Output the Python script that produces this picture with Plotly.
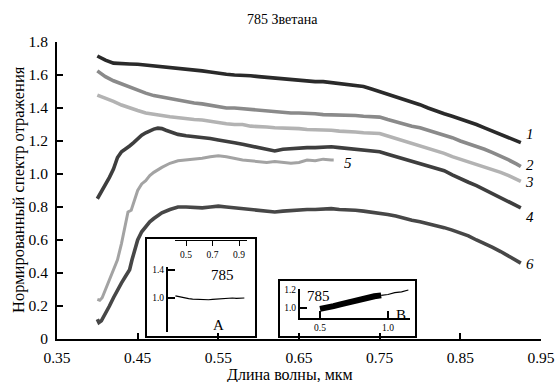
import plotly.graph_objects as go

# ---------------- data ----------------
x1 = [0.40,0.41,0.42,0.43,0.44,0.45,0.46,0.47,0.48,0.49,0.50,0.51,0.52,0.53,0.54,0.55,0.56,0.57,0.58,0.59,0.60,0.61,0.62,0.63,0.64,0.65,0.66,0.67,0.68,0.69,0.70,0.71,0.72,0.73,0.74,0.75,0.76,0.77,0.78,0.79,0.80,0.81,0.82,0.83,0.84,0.85,0.86,0.87,0.88,0.89,0.90,0.91,0.92,0.925]
y1 = [1.715,1.69,1.672,1.667,1.667,1.665,1.66,1.655,1.652,1.65,1.645,1.64,1.633,1.625,1.618,1.61,1.605,1.60,1.60,1.595,1.59,1.585,1.58,1.575,1.57,1.57,1.565,1.56,1.56,1.555,1.55,1.545,1.54,1.53,1.515,1.50,1.485,1.47,1.455,1.44,1.42,1.40,1.38,1.365,1.35,1.335,1.32,1.30,1.28,1.26,1.245,1.225,1.20,1.19]

x2 = x1
y2 = [1.625,1.59,1.565,1.545,1.53,1.51,1.49,1.475,1.465,1.46,1.45,1.44,1.43,1.425,1.415,1.41,1.40,1.40,1.395,1.39,1.385,1.38,1.375,1.375,1.37,1.37,1.37,1.365,1.36,1.36,1.36,1.355,1.355,1.35,1.35,1.345,1.33,1.315,1.30,1.29,1.28,1.265,1.255,1.24,1.22,1.20,1.185,1.17,1.15,1.13,1.11,1.085,1.06,1.045]

x3 = x1
y3 = [1.478,1.46,1.44,1.418,1.40,1.385,1.37,1.36,1.355,1.347,1.34,1.335,1.33,1.327,1.318,1.31,1.305,1.30,1.30,1.29,1.29,1.285,1.28,1.28,1.275,1.275,1.27,1.27,1.265,1.265,1.26,1.26,1.255,1.25,1.25,1.245,1.23,1.215,1.20,1.19,1.175,1.16,1.14,1.125,1.105,1.09,1.075,1.06,1.045,1.025,1.01,0.99,0.965,0.955]

x4 = [0.40,0.405,0.41,0.415,0.42,0.425,0.43,0.435,0.44,0.445,0.45,0.455,0.46,0.465,0.47,0.475,0.48,0.485,0.49,0.50,0.51,0.52,0.53,0.54,0.55,0.56,0.57,0.58,0.59,0.60,0.61,0.62,0.63,0.64,0.65,0.66,0.67,0.68,0.69,0.70,0.71,0.72,0.73,0.74,0.75,0.76,0.77,0.78,0.79,0.80,0.81,0.82,0.83,0.84,0.85,0.86,0.87,0.88,0.89,0.90,0.91,0.92,0.925]
y4 = [0.85,0.89,0.93,0.98,1.03,1.10,1.135,1.15,1.17,1.19,1.215,1.235,1.25,1.262,1.272,1.278,1.275,1.265,1.255,1.24,1.232,1.228,1.224,1.215,1.206,1.20,1.19,1.18,1.17,1.16,1.15,1.14,1.15,1.155,1.155,1.16,1.16,1.165,1.165,1.16,1.155,1.15,1.145,1.14,1.135,1.12,1.105,1.09,1.075,1.06,1.05,1.035,1.02,0.995,0.97,0.95,0.93,0.905,0.88,0.86,0.835,0.81,0.795]

x5 = [0.40,0.403,0.406,0.41,0.415,0.42,0.425,0.43,0.435,0.438,0.442,0.445,0.45,0.455,0.46,0.465,0.47,0.48,0.49,0.50,0.51,0.52,0.53,0.54,0.55,0.56,0.57,0.58,0.59,0.60,0.61,0.62,0.63,0.64,0.65,0.66,0.67,0.68,0.69,0.693]
y5 = [0.24,0.235,0.25,0.30,0.36,0.42,0.48,0.58,0.70,0.77,0.78,0.83,0.90,0.94,0.96,0.99,1.01,1.04,1.065,1.08,1.085,1.09,1.095,1.105,1.11,1.105,1.095,1.085,1.08,1.075,1.07,1.075,1.07,1.065,1.07,1.085,1.08,1.09,1.085,1.085]

x6 = [0.40,0.402,0.405,0.41,0.415,0.42,0.425,0.43,0.435,0.44,0.443,0.447,0.45,0.455,0.46,0.465,0.47,0.475,0.48,0.49,0.50,0.51,0.52,0.53,0.54,0.55,0.56,0.57,0.58,0.59,0.60,0.61,0.62,0.63,0.64,0.65,0.66,0.67,0.68,0.69,0.70,0.71,0.72,0.73,0.74,0.75,0.76,0.77,0.78,0.79,0.80,0.81,0.82,0.83,0.84,0.85,0.86,0.87,0.88,0.89,0.90,0.91,0.92,0.925]
y6 = [0.12,0.10,0.11,0.15,0.20,0.25,0.30,0.34,0.38,0.42,0.48,0.56,0.60,0.65,0.68,0.71,0.73,0.75,0.765,0.785,0.80,0.80,0.795,0.795,0.80,0.805,0.80,0.795,0.79,0.785,0.78,0.775,0.77,0.775,0.78,0.78,0.785,0.785,0.79,0.79,0.785,0.785,0.78,0.775,0.77,0.765,0.755,0.745,0.73,0.72,0.71,0.70,0.69,0.675,0.66,0.645,0.625,0.60,0.58,0.555,0.53,0.50,0.475,0.46]

# inset A (ratio 785)
xa = [0.42,0.44,0.46,0.48,0.50,0.52,0.55,0.58,0.61,0.64,0.67,0.70,0.73,0.76,0.79,0.82,0.85,0.88,0.91,0.94]
ya = [1.03,1.02,1.01,1.005,1.00,0.99,0.985,0.98,0.975,0.97,0.975,0.98,0.985,0.99,0.99,0.995,1.0,0.995,1.0,1.0]

# inset B
xb_thick = [0.50,0.55,0.60,0.65,0.70,0.75,0.80,0.85,0.90,0.95]
yb_thick = [0.99,1.00,1.02,1.04,1.06,1.08,1.10,1.12,1.13,1.14]
xb_thin = [0.95,1.00,1.05,1.10,1.15]
yb_thin = [1.14,1.15,1.17,1.18,1.20]

x_tickvals = [0.35,0.45,0.55,0.65,0.75,0.85,0.95]
x_ticktext = ["0.35","0.45","0.55","0.65","0.75","0.85","0.95"]
y_tickvals = [0,0.2,0.4,0.6,0.8,1.0,1.2,1.4,1.6,1.8]
y_ticktext = ["0","0.2","0.4","0.6","0.8","1.0","1.2","1.4","1.6","1.8"]

curve_labels = ["1","2","3","4","5","6"]
label_x = [0.936,0.936,0.936,0.936,0.711,0.936]
label_y = [1.242,1.055,0.952,0.739,1.067,0.454]

# ---------------- figure ----------------
FONT = "Liberation Serif, 'Times New Roman', Times, serif"
fig = go.Figure()

series = [(x1,y1,"#2a2a2a",3.6),(x2,y2,"#8a8a8a",3.6),(x3,y3,"#b3b3b3",3.6),
          (x4,y4,"#3e3e3e",3.6),(x5,y5,"#a3a3a3",3.0),(x6,y6,"#474747",3.6)]
for xs, ys, c, w in series:
    fig.add_trace(go.Scatter(x=xs, y=ys, mode="lines", line=dict(color=c, width=w),
                             showlegend=False, hoverinfo="skip"))

fig.add_trace(go.Scatter(x=xa, y=ya, xaxis="x2", yaxis="y2", mode="lines",
                         line=dict(color="black", width=1.2), showlegend=False))
fig.add_trace(go.Scatter(x=xb_thick, y=yb_thick, xaxis="x3", yaxis="y3", mode="lines",
                         line=dict(color="black", width=6), showlegend=False))
fig.add_trace(go.Scatter(x=xb_thin, y=yb_thin, xaxis="x3", yaxis="y3", mode="lines",
                         line=dict(color="black", width=1.2), showlegend=False))

W, H = 555, 382
L, R, T, B = 57, 14, 42, 43
pw, ph = W - L - R, H - T - B

def px(X):
    return (X - L) / pw

def py(Y):
    return (H - B - Y) / ph

axis_common = dict(showgrid=False, zeroline=False, showline=True, linecolor="black",
                   tickcolor="black", color="black", automargin=False)

def note(X, Y, text, size, angle=0):
    return dict(x=px(X), y=py(Y), xref="paper", yref="paper", text=text, showarrow=False,
                xanchor="center", yanchor="middle", textangle=angle,
                font=dict(family=FONT, size=size, color="black"))

annotations = []
for t, lx, ly in zip(curve_labels, label_x, label_y):
    annotations.append(dict(x=lx, y=ly, xref="x", yref="y", text="<i>%s</i>" % t,
                            showarrow=False, xanchor="center", yanchor="middle",
                            font=dict(family=FONT, size=15, color="black")))
annotations += [
    note(282, 20, "785 Зветана", 14),
    note(18, 190, "Нормированный спектр отражения", 16.5, -90),
    note(290, 375, "Длина волны, мкм", 16),
    note(222, 275, "785", 15),
    note(218, 325, "A", 15),
    note(318, 296, "785", 15),
    note(401, 315, "B", 15),
]

shapes = [
    dict(type="rect", xref="paper", yref="paper", x0=px(146), x1=px(256), y0=py(337), y1=py(238),
         line=dict(color="black", width=2), fillcolor="white", layer="below"),
    dict(type="rect", xref="paper", yref="paper", x0=px(279), x1=px(416), y0=py(337), y1=py(280),
         line=dict(color="black", width=2), fillcolor="white", layer="below"),
]

fig.update_layout(
    template="none",
    width=W, height=H, margin=dict(l=L, r=R, t=T, b=B, autoexpand=False),
    paper_bgcolor="white", plot_bgcolor="rgba(0,0,0,0)",
    font=dict(family=FONT, size=14, color="black"),
    showlegend=False,
    xaxis=dict(**axis_common, range=[0.35, 0.95], tickvals=x_tickvals, ticktext=x_ticktext,
               ticks="inside", ticklen=6, tickwidth=2, linewidth=2, ticklabelstandoff=3,
               ticklabeloverflow="allow",
               tickfont=dict(family=FONT, size=15.5)),
    yaxis=dict(**axis_common, range=[0, 1.8], tickvals=y_tickvals, ticktext=y_ticktext,
               ticks="inside", ticklen=6, tickwidth=2, linewidth=2, ticklabelstandoff=4,
               tickfont=dict(family=FONT, size=15.5)),
    xaxis2=dict(**axis_common, domain=[px(175), px(247)], range=[0.417, 0.96],
                anchor="free", position=py(240), side="bottom",
                tickvals=[0.5, 0.7, 0.9], ticktext=["0.5", "0.7", "0.9"],
                ticks="outside", ticklen=5, tickwidth=1.2, linewidth=1.2,
                tickfont=dict(family=FONT, size=9.5)),
    yaxis2=dict(**axis_common, domain=[py(332), py(267)], range=[0.514, 1.443],
                anchor="free", position=px(167),
                tickvals=[1.0, 1.4], ticktext=["1.0", "1.4"],
                ticks="inside", ticklen=7, tickwidth=2, linewidth=2,
                tickfont=dict(family=FONT, size=9.5)),
    xaxis3=dict(**axis_common, domain=[px(300), px(410)], range=[0.353, 1.162],
                anchor="y3", tickvals=[0.5, 1.0], ticktext=["0.5", "1.0"],
                ticks="inside", ticklen=7, tickwidth=2, linewidth=2,
                tickfont=dict(family=FONT, size=9.5)),
    yaxis3=dict(**axis_common, domain=[py(318), py(289)], range=[0.889, 1.211],
                anchor="x3", tickvals=[1.0, 1.2], ticktext=["1.0", "1.2"],
                ticks="inside", ticklen=7, tickwidth=2, linewidth=2,
                tickfont=dict(family=FONT, size=9.5)),
    annotations=annotations,
    shapes=shapes,
)

# remove the browser's default 8px page margin so the figure fills the window exactly
fig.write_html("out.html", config={"displayModeBar": False},
               post_script="document.body.style.margin='0px';document.body.style.overflow='hidden';")
